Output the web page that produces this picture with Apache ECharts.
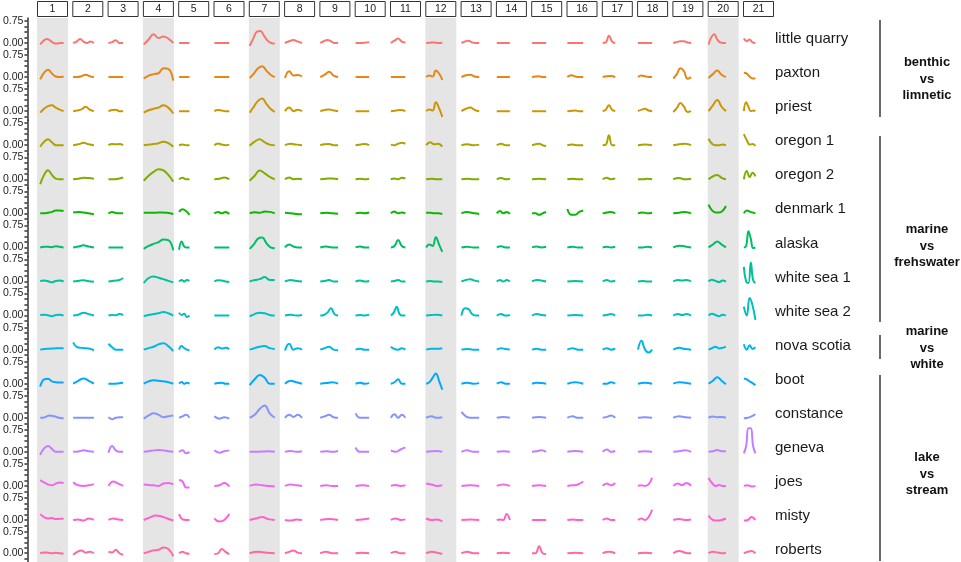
<!DOCTYPE html>
<html>
<head>
<meta charset="utf-8">
<script src="https://cdn.jsdelivr.net/npm/echarts@6/dist/echarts.min.js"></script>
<style>
  html, body { margin: 0; padding: 0; background: #fff; }
  #chart { width: 961px; height: 562px; }
</style>
</head>
<body>
<div id="chart"></div>
<script>
// column strips (chromosomes) and their lengths in Mb
var chromosomes = ['1','2','3','4','5','6','7','8','9','10','11','12','13','14','15','16','17','18','19','20','21'];
var chromLen = [28.2, 23.3, 16.8, 32.6, 12.3, 17.1, 27.9, 19.4, 20.2, 15.7, 16.7, 18.4, 20.1, 15.2, 16.2, 18.1, 14.6, 16.3, 20.2, 19.7, 13.5];
var shadedChrom = ['1', '4', '7', '12', '20'];

var populations = ['little quarry', 'paxton', 'priest', 'oregon 1', 'oregon 2', 'denmark 1', 'alaska',
  'white sea 1', 'white sea 2', 'nova scotia', 'boot', 'constance', 'geneva', 'joes', 'misty', 'roberts'];
var popColors = ['#F8766D', '#E68613', '#CD9600', '#ABA300', '#7CAE00', '#0CB702', '#00BE67', '#00C19A',
  '#00BFC4', '#00B8E7', '#00A9FF', '#8494FF', '#C77CFF', '#ED68ED', '#FF61CC', '#FF68A1'];

var comparisons = ['benthic\nvs\nlimnetic', 'marine\nvs\nfrehswater', 'marine\nvs\nwhite', 'lake\nvs\nstream'];

var yTicks = [0, 0.75];
var yMinorTicks = [-0.1875, 0, 0.1875, 0.375, 0.5625, 0.75];

// one list per population, one small curve per chromosome
var littleQuarry = [
  [-0.05, 0.08, 0.14, 0.08, 0.0, -0.02, 0.0, 0.0], [0, 0.05, 0.14, 0.05, 0.0, 0.05, 0.0], [0, 0.03, 0.09, 0.0, 0.01],
  [-0.05, 0.12, 0.3, 0.17, 0.22, 0.15, 0.0], [0, 0, 0], [0, 0, 0, 0],
  [-0.1, 0.15, 0.38, 0.41, 0.25, 0.08, 0.0, -0.02], [0, 0.06, 0.1, 0.05, 0.0], [0, 0.06, 0.1, 0.06, 0.0, 0.01],
  [0, 0, 0.01, 0.03], [0, 0.08, 0.15, 0.05, 0.02], [0, 0.01, 0.02, 0.0, 0.01],
  [0, 0.05, 0.08, 0.02, 0.0, 0.0], [0, 0, 0], [0, 0, 0],
  [0, 0, 0], [0, 0.02, 0.25, 0.05, 0.0], [0, 0, 0],
  [0, 0.03, 0.06, 0.06, 0.02, 0.0], [-0.05, 0.2, 0.3, 0.12, 0.02, 0.0, 0.0], [0.15, 0.06, 0.12, 0.02, 0.0]
];
var paxton = [
  [-0.08, 0.15, 0.25, 0.12, 0.02, 0.0, 0.02], [0, 0.0, 0.03, 0.08, 0.03, 0.0], [0, 0, 0],
  [-0.05, 0.05, 0.1, 0.13, 0.3, 0.28, -0.12], [0, 0, 0], [0, 0, 0],
  [-0.03, 0.12, 0.3, 0.37, 0.22, 0.08, 0.0], [-0.03, 0.2, 0.05, 0.07, 0.02], [0, 0.08, 0.18, 0.05, 0.0],
  [0, 0, 0], [0, 0, 0], [0.0, 0.05, 0.02, 0.22, 0.12, -0.1],
  [0, 0.06, 0.08, 0.02, 0.0], [0, 0, 0], [0, 0.02, 0.03, 0.0, 0.0],
  [0.0, 0.06, 0.02, 0.0, 0.0], [0, 0.03, 0.04, 0.0], [0.0, 0.05, 0.03, 0.0, 0.0],
  [-0.05, 0.1, 0.3, 0.2, -0.06, 0.0], [-0.03, 0.1, 0.22, 0.08, 0.0], [0.15, 0.12, 0.02, -0.05, -0.04]
];
var priest = [
  [-0.05, 0.08, 0.17, 0.2, 0.12, 0.05, 0.0], [0.0, 0.02, 0.06, 0.15, 0.05, 0.0], [0, 0.04, 0.05, 0.0, 0.0],
  [-0.05, 0.03, 0.08, 0.12, 0.2, 0.12, -0.08], [0, 0, 0], [0, 0.04, 0.02, 0.0, 0.0],
  [-0.05, 0.15, 0.35, 0.43, 0.25, 0.08, -0.03], [0, 0.12, 0.0, 0.05, 0.0], [0, 0.04, 0.06, 0.02, 0.0],
  [0, 0, 0], [0, 0.02, 0.04, 0.0], [0.0, 0.06, 0.02, 0.3, 0.1, -0.2],
  [0, 0.08, 0.12, 0.04, 0.0], [0, 0, 0], [0, 0, 0],
  [0, 0.01, 0.02, 0.0, 0.0], [0, 0.05, 0.2, 0.05, 0.0], [0, 0.05, 0.08, 0.02, 0.0],
  [-0.03, 0.1, 0.28, 0.15, -0.03, 0.0], [0.0, 0.2, 0.38, 0.15, 0.0], [0.0, 0.3, 0.15, 0.0, 0.02, 0.0]
];
var oregon1 = [
  [-0.05, 0.12, 0.2, 0.1, 0.0, 0.0, 0.0], [0, 0.03, 0.08, 0.03, 0.0], [0, 0.04, 0.03, 0.04, 0.0],
  [0.0, 0.02, 0.04, 0.07, 0.12, 0.07, -0.05], [0, 0.02, 0.0, 0.0], [0, 0.06, 0.02, 0.0, 0.02],
  [-0.02, 0.12, 0.2, 0.1, 0.02, 0.0], [0, 0.05, 0.02, 0.0], [0, 0.03, 0.04, 0.0, 0.0],
  [0, 0.02, 0.04, 0.0], [0.02, 0.0, 0.05, 0.08, 0.05], [0, 0.1, 0.03, 0.05, -0.05],
  [0, 0.03, 0.0, 0.02], [0, 0.05, 0.0, 0.0], [0, 0.03, 0.05, 0.0, -0.03],
  [0, 0.02, 0.0, 0.0], [0.0, 0.02, 0.34, 0.0, 0.0], [0, 0.02, 0.0],
  [0, 0.03, 0.05, 0.0], [0.22, 0.05, 0.0, 0.0, 0.02, 0.0], [0.38, 0.18, 0.02, 0.04, -0.02]
];
var oregon2 = [
  [-0.17, 0.15, 0.31, 0.15, 0.02, 0.0, 0.0], [0, 0.02, 0.05, 0.04, 0.02], [0, 0.0, 0.02, 0.06],
  [-0.05, 0.12, 0.25, 0.34, 0.3, 0.15, -0.08], [0, 0.05, 0.0, 0.0], [0, 0.02, 0.06, 0.0],
  [-0.05, 0.12, 0.3, 0.2, 0.08, 0.0], [0, 0.06, 0.0, 0.02, 0.0], [0, 0.02, 0.03, 0.0],
  [0, 0.02, 0.0, 0.02], [0, 0.03, 0.0, 0.05, 0.02], [0, 0.02, 0.0, 0.0],
  [0, 0.02, 0.0, 0.0], [0, 0.04, 0.0, 0.02], [0, 0.02, 0.0],
  [0, 0.02, 0.0, 0.0], [0, 0.05, 0.0, 0.03], [0, 0.0, 0.02, 0.0],
  [0, 0.04, 0.0, 0.02], [0.0, 0.1, 0.15, 0.05, 0.0], [0.0, 0.28, 0.08, 0.22, 0.1]
];
var denmark1 = [
  [0, 0.0, 0.02, 0.05, 0.1, 0.1, 0.08], [0.03, 0.05, 0.03, 0.0, -0.03], [0, 0.05, 0.01, 0.0, 0.0],
  [0.02, 0.02, 0.02, 0.03, 0.02, -0.02], [0.05, 0.14, 0.08, -0.05], [0.0, 0.05, 0.0, 0.05, -0.02],
  [0.0, 0.04, 0.02, 0.06, 0.05, 0.0], [0.02, 0.0, -0.02, -0.03], [0.0, 0.02, 0.0, -0.01],
  [0, 0.02, 0.0, 0.03], [0.0, 0.06, 0.0, 0.03, 0.0], [0.02, 0.02, 0.0, 0.0, -0.02],
  [0, 0.05, 0.03, 0.0, -0.02], [0, 0.08, 0.0, 0.05, -0.02], [0.0, 0.0, -0.05, 0.0, 0.05],
  [0.15, -0.05, -0.05, 0.05, 0.1], [0.0, 0.03, 0.05, 0.0], [0.0, 0.03, 0.0, 0.02],
  [0.0, 0.02, 0.05, 0.0], [0.3, 0.1, 0.03, 0.03, 0.08, 0.25], [0.0, 0.1, 0.06, 0.03, 0.0]
];
var alaska = [
  [0.0, 0.02, 0.02, 0.01, 0.04, 0.02, 0.0], [0, 0.03, 0.07, 0.03, 0.0], [0, 0, 0, 0],
  [-0.05, 0.05, 0.12, 0.18, 0.27, 0.25, -0.1], [-0.08, 0.2, 0.03, 0.0, 0.0], [0, 0, 0, 0],
  [-0.05, 0.1, 0.3, 0.34, 0.15, 0.0, -0.03], [0, 0.1, 0.03, 0.0, 0.0], [0, 0.03, 0.0, 0.0],
  [0, 0.03, 0.0, 0.0], [0, 0.05, 0.25, 0.05, 0.0], [0.0, 0.1, 0.05, 0.35, 0.1, -0.15],
  [0, 0.02, 0.0, 0.0], [0, 0.04, 0.0, 0.0], [0, 0.03, 0.0, 0.02],
  [0, 0.02, 0.0, 0.0], [0.0, 0.02, 0.0, 0.02], [0.0, 0.0, 0.02, 0.0],
  [0, 0.06, 0.03, 0.0], [0.0, 0.1, 0.2, 0.1, 0.0], [0.0, 0.05, 0.55, 0.3, -0.02, 0.0]
];
var whiteSea1 = [
  [0.02, 0.03, 0.01, -0.03, 0.02, 0.03, 0.0], [0.0, 0.02, 0.04, 0.01, -0.01], [0.0, 0.02, 0.03, 0.05, 0.12],
  [-0.05, 0.12, 0.17, 0.13, 0.08, 0.02, -0.03], [0.0, 0.05, 0.0, 0.05, 0.02], [0.0, 0.04, 0.03, 0.0, -0.02],
  [0, 0.05, 0.08, 0.15, 0.05, 0.05], [0.0, 0.05, 0.02, 0.0], [0, 0.02, 0.05, 0.0, 0.0],
  [0, 0.03, 0.0, 0.02], [0, 0.02, 0.05, 0.0, 0.0], [0.0, 0.02, 0.0, 0.0, -0.02],
  [0, 0.05, 0.08, 0.03, 0.0], [0, 0.05, 0.0, 0.05, 0.0], [0.0, 0.05, 0.03, 0.0],
  [0.0, 0.02, 0.0], [0, 0.05, 0.0, 0.03], [0.0, 0.02, 0.0, 0.0],
  [0.0, 0.05, 0.03, 0.05, 0.0], [0.0, 0.06, 0.02, -0.02, 0.03, 0.0], [0.5, 0.0, -0.05, 0.65, 0.05, -0.05]
];
var whiteSea2 = [
  [0.02, 0.03, 0.01, -0.02, 0.02, 0.03, 0.0], [0.0, 0.03, 0.1, 0.05, 0.0], [0, 0.02, 0.01, 0.05, 0.02],
  [-0.02, 0.02, 0.05, 0.08, 0.12, 0.08, 0.0], [0.1, 0.02, 0.06, -0.05, 0.0], [0, 0, 0, 0],
  [-0.03, 0.05, 0.1, 0.08, 0.02, 0.0], [0, 0.03, 0.0, 0.02], [0, 0.02, 0.1, 0.25, 0.05, 0.0],
  [0, 0.02, 0.0, 0.03], [0.0, 0.1, 0.3, 0.05, 0.0, 0.0], [0, 0.02, 0.03, 0.0],
  [0.0, 0.25, 0.22, 0.05, 0.0, 0.0], [0, 0.05, 0.0, 0.02], [0, 0.05, 0.02, 0.0],
  [0, 0.02, 0.0], [0, 0.02, 0.05, 0.0], [0, 0.0, 0.03, 0.0],
  [0, 0.05, 0.02, 0.05, 0.0], [0.0, 0.06, 0.02, -0.02, 0.03, 0.0], [0.3, 0.0, 0.6, 0.35, -0.15]
];
var novaScotia = [
  [0.0, 0.02, 0.03, 0.04, 0.05, 0.05], [0.25, 0.08, 0.06, 0.05, 0.03, -0.02], [0.2, 0.08, 0.0, 0.0, 0.0],
  [0.0, 0.05, 0.1, 0.18, 0.22, 0.12, -0.05], [0.0, 0.12, 0.05, 0.0, -0.02], [0.0, 0.08, 0.04, 0.06, 0.02],
  [0.0, 0.05, 0.1, 0.12, 0.05, 0.02], [-0.03, 0.2, 0.0, 0.05, 0.0], [0, 0.05, 0.1, 0.0, -0.02],
  [0.0, 0.03, 0.0, 0.0], [0.1, 0.02, 0.0, 0.05, 0.0], [0.0, 0.03, 0.03, 0.05],
  [0.0, 0.02, 0.0, 0.0], [0.0, 0.05, 0.02, 0.0], [0, 0.03, 0.0, 0.0],
  [0.0, 0.05, 0.0, 0.0], [0, 0.05, 0.0, 0.03], [0.0, 0.3, 0.0, -0.1, 0.0],
  [0, 0.06, 0.02, 0.0], [0.0, 0.05, 0.1, 0.04, 0.06, 0.1], [0.18, 0.0, 0.15, 0.02, 0.08]
];
var boot = [
  [-0.1, 0.15, 0.17, 0.08, 0.05, 0.04, 0.04], [0, 0.1, 0.18, 0.1, 0.0], [0, 0.0, 0.01, 0.03],
  [0.0, 0.08, 0.12, 0.1, 0.08, 0.05, 0.0], [0.0, 0.06, 0.0, 0.03, 0.0], [0, 0.02, 0.03, 0.0, 0.0],
  [-0.05, 0.15, 0.3, 0.2, 0.0, 0.0], [0.0, 0.1, 0.05, 0.0], [0, 0.02, 0.05, 0.0],
  [0, 0.03, 0.0, 0.02], [0, 0.05, 0.15, 0.0, 0.0], [0.0, 0.05, 0.2, 0.35, 0.1, -0.2],
  [0, 0.03, 0.0, 0.02], [0, 0.05, 0.0, 0.0], [0.0, 0.03, 0.02, 0.0],
  [0, 0.05, 0.0], [0, 0.0, 0.05, 0.0], [0.0, 0.03, 0.0],
  [0.0, 0.05, 0.03, 0.0], [0.0, 0.1, 0.22, 0.1, -0.02], [0.18, 0.15, 0.08, 0.02, -0.05]
];
var constance = [
  [0.0, 0.02, 0.08, 0.05, 0.0, -0.02], [0, 0, 0, 0, 0], [0.02, -0.05, 0.0, 0.02, 0.02],
  [-0.03, 0.08, 0.15, 0.1, 0.02, 0.05, 0.08], [0.0, 0.05, 0.1, 0.0], [0.05, -0.03, 0.02, -0.03],
  [0.0, 0.1, 0.3, 0.42, 0.15, 0.0], [0.0, 0.1, 0.03, 0.1, 0.0], [0, 0.05, 0.1, 0.02, 0.0],
  [0.15, 0.0, 0.0, 0.0], [0.0, 0.12, 0.0, 0.1, 0.0], [0.0, 0.05, 0.0, 0.02],
  [0.2, 0.05, 0.0, 0.0, 0.0], [0, 0.03, 0.0], [0, 0.03, 0.0],
  [0, 0.05, 0.0, 0.0], [0, 0.03, 0.08, 0.0], [0.0, 0.02, 0.0],
  [0, 0.05, 0.02, 0.0], [0.0, 0.04, 0.02, 0.03, 0.0], [-0.02, 0.0, 0.05, 0.12]
];
var geneva = [
  [-0.1, 0.12, 0.2, 0.1, 0.0, 0.0, 0.0], [0, 0.01, 0.05, 0.02, 0.0], [-0.03, 0.2, 0.05, 0.0, 0.0],
  [0.0, 0.02, 0.05, 0.06, 0.05, 0.02, 0.0], [0.0, 0.05, -0.05, 0.0], [0.05, -0.03, 0.02, 0.05],
  [0.0, 0.0, 0.01, 0.02, 0.0], [0, 0.03, 0.0, 0.02], [0.0, 0.02, 0.0, 0.03],
  [0.15, 0.0, 0.0, 0.0], [0.05, 0.0, 0.08, 0.15], [0, 0.02, 0.03, 0.0],
  [0, 0.05, 0.0, 0.0], [0, 0.02, 0.0], [0, 0.02, 0.05, 0.0],
  [0.0, 0.03, 0.0], [0, 0.08, 0.0, 0.03], [0, 0.02, 0.0],
  [0.0, 0.02, 0.05, 0.0], [0.0, 0.02, 0.06, 0.02, 0.02], [-0.05, 0.2, 0.8, 0.8, 0.2, -0.05]
];
var joes = [
  [0.2, 0.12, 0.05, 0.02, 0.08, 0.12, 0.1], [0.12, 0.02, 0.0, 0.02, 0.06], [0.0, 0.15, 0.08, 0.0],
  [0.05, 0.03, 0.02, 0.0, 0.08, 0.1, 0.05], [0.2, 0.15, -0.05, -0.05], [0.0, 0.02, 0.1, -0.02],
  [0.0, 0.05, 0.02, 0.0, -0.02], [0.0, 0.05, 0.02, 0.0], [0.0, 0.02, 0.0, 0.0],
  [0.0, 0.02, 0.0], [0.0, 0.03, 0.0, 0.02], [0.08, 0.05, 0.0, 0.02],
  [0.0, 0.02, 0.0], [0, 0.05, 0.0], [0.0, 0.02, 0.0],
  [0.0, 0.02, 0.05, 0.15], [0.0, 0.08, 0.02, 0.1], [0.0, 0.02, 0.0, 0.05, 0.28],
  [0.0, 0.08, 0.03, 0.1, 0.0], [0.27, 0.1, 0.0, 0.03, 0.0, 0.0], [0.0, 0.02, -0.02, 0.0]
];
var misty = [
  [0.2, 0.1, 0.05, 0.07, 0.03, 0.04, 0.04], [0.0, 0.02, -0.02, 0.05, 0.0], [0.0, 0.05, 0.02, 0.0],
  [0.0, 0.08, 0.15, 0.12, 0.05, -0.02], [0.2, 0.02, 0.0, 0.0], [0.05, -0.05, 0.0, 0.2],
  [0.0, 0.05, 0.1, 0.03, 0.0], [0.0, -0.02, 0.02, 0.0], [0.0, 0.03, 0.0],
  [0.0, 0.02, 0.05], [0.0, 0.05, 0.0, 0.02], [0.05, 0.0, 0.02, -0.05],
  [0.0, 0.02, 0.0], [0.0, 0.02, 0.0, 0.2, 0.0], [0, 0, 0],
  [0.0, 0.02, 0.0, 0.0], [0.0, 0.05, 0.0, 0.0], [0.0, 0.05, 0.0, 0.1, 0.35],
  [0.0, 0.03, 0.0, 0.02], [0.15, 0.0, -0.02, 0.0, 0.05], [-0.02, 0.0, 0.1, 0.0]
];
var roberts = [
  [0.0, 0.03, 0.02, 0.0, 0.02, 0.0, -0.01], [-0.05, 0.05, 0.1, 0.02, 0.05, 0.0], [0.05, 0.03, 0.12, 0.0, -0.05],
  [0.0, 0.05, 0.1, 0.12, 0.2, 0.15, -0.1], [0.0, 0.05, 0.0, -0.02], [-0.03, 0.0, 0.15, 0.05, -0.03],
  [0.0, 0.05, 0.02, 0.0], [0.0, 0.05, 0.1, 0.02, 0.0], [0, 0.05, 0.0, 0.0],
  [0.0, 0.02, 0.0], [0.0, 0.05, 0.0, 0.0], [0.0, 0.05, 0.02, -0.03],
  [0.0, 0.05, 0.0, 0.0], [0.0, 0.02, 0.0], [0.0, 0.0, 0.25, 0.0, -0.03],
  [0.0, 0.02, 0.0], [0.0, 0.05, 0.0], [0.0, 0.02, 0.0],
  [0.0, 0.08, 0.02, 0.0], [0.0, 0.05, 0.03, 0.0, 0.02], [0.0, 0.05, 0.08, 0.0]
];

var popData = [littleQuarry, paxton, priest, oregon1, oregon2, denmark1, alaska, whiteSea1,
  whiteSea2, novaScotia, boot, constance, geneva, joes, misty, roberts];

// layout
var panelLeft = 37, panelPitch = 35.3, panelWidth = 31;
var firstZero = 43, rowPitch = 34.07;
var pxPerUnit = 22 / 0.75;
var yMax = 25 / pxPerUnit, yMin = yMax - rowPitch / pxPerUnit;
var xMax = 33;
var fontFam = 'Liberation Sans, Arial, sans-serif';

var chart = echarts.init(document.getElementById('chart'), null, { renderer: 'canvas' });

var grids = [], xAxes = [], yAxes = [], series = [], graphics = [];

for (var r = 0; r < populations.length; r++) {
  for (var c = 0; c < chromosomes.length; c++) {
    var idx = grids.length;
    grids.push({
      left: panelLeft + c * panelPitch,
      top: firstZero - yMax * pxPerUnit + r * rowPitch,
      width: panelWidth,
      height: rowPitch
    });
    xAxes.push({ gridIndex: idx, type: 'value', min: 0, max: xMax, show: false });
    yAxes.push({
      gridIndex: idx,
      type: 'value',
      min: yMin,
      max: yMax,
      show: c === 0,
      offset: 12,
      axisLine: { show: true, onZero: false, lineStyle: { color: '#333', width: 1.5 } },
      axisTick: {
        show: true, length: 3,
        customValues: yMinorTicks,
        lineStyle: { color: '#333', width: 1.5 }
      },
      axisLabel: {
        customValues: yTicks,
        formatter: function (v) { return v.toFixed(2); },
        color: '#222', fontSize: 10.5, margin: 4,
        fontFamily: fontFam
      },
      splitLine: { show: false }
    });
    var vals = popData[r][c];
    var len = chromLen[c];
    var pts = vals.map(function (v, k) {
      return [0.9 + k * (len - 1.2) / (vals.length - 1), v];
    });
    series.push({
      type: 'line',
      xAxisIndex: idx,
      yAxisIndex: idx,
      data: pts,
      smooth: 0.45,
      showSymbol: false,
      clip: false,
      silent: true,
      z: 3,
      lineStyle: { color: popColors[r], width: 2 }
    });
  }
}

// shaded panels and strip boxes
chromosomes.forEach(function (ch, c) {
  var x = panelLeft + c * panelPitch;
  if (shadedChrom.indexOf(ch) >= 0) {
    graphics.push({
      type: 'rect', z: 0, silent: true,
      shape: { x: x, y: 18, width: panelWidth, height: 562 - 18 },
      style: { fill: '#e5e5e5' }
    });
  }
  graphics.push({
    type: 'rect', z: 1, silent: true,
    shape: { x: x + 0.5, y: 1.5, width: panelWidth - 1, height: 15 },
    style: { fill: '#fff', stroke: '#333', lineWidth: 1 }
  });
  graphics.push({
    type: 'text', z: 2, silent: true,
    x: x + panelWidth / 2, y: 9.5,
    style: {
      text: ch, fill: '#1a1a1a', fontSize: 10.5, fontFamily: fontFam,
      align: 'center', verticalAlign: 'middle'
    }
  });
});

// row labels
populations.forEach(function (name, r) {
  graphics.push({
    type: 'text', z: 2, silent: true,
    x: 775, y: firstZero + r * rowPitch - 4,
    style: {
      text: name, fill: '#1a1a1a', fontSize: 15, fontFamily: fontFam,
      align: 'left', verticalAlign: 'middle'
    }
  });
});

// comparison brackets
var bracketSpans = [[20, 117], [136, 322], [335, 359], [375, 561]];
var labelCenters = [79, 246, 348, 474];
comparisons.forEach(function (txt, g) {
  graphics.push({
    type: 'line', z: 2, silent: true,
    shape: { x1: 880, y1: bracketSpans[g][0], x2: 880, y2: bracketSpans[g][1] },
    style: { stroke: '#6b6b6b', lineWidth: 2 }
  });
  graphics.push({
    type: 'text', z: 2, silent: true,
    x: 927, y: labelCenters[g],
    style: {
      text: txt, fill: '#111', fontSize: 13, fontWeight: 'bold', lineHeight: 16.7,
      fontFamily: fontFam, align: 'center', verticalAlign: 'middle'
    }
  });
});

chart.setOption({
  animation: false,
  grid: grids,
  xAxis: xAxes,
  yAxis: yAxes,
  series: series,
  graphic: { elements: graphics }
});
</script>
</body>
</html>
